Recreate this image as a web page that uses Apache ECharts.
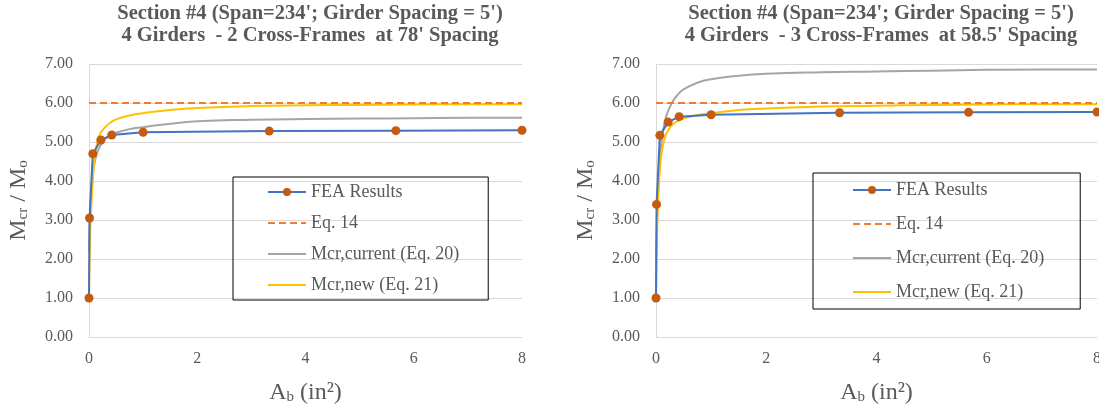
<!DOCTYPE html>
<html>
<head>
<meta charset="utf-8">
<script src="https://cdn.jsdelivr.net/npm/echarts@6/dist/echarts.min.js"></script>
<style>
html, body { margin: 0; padding: 0; background: #fff; }
#chart { width: 1099px; height: 406px; }
</style>
</head>
<body>
<div id="chart"></div>
<script>
// axis ticks
const xTicks = [0, 2, 4, 6, 8]
const yTicks = [0, 1, 2, 3, 4, 5, 6, 7]

// FEA results (markers)
const abFea = [0, 0.01, 0.07, 0.22, 0.42, 1.0, 3.33, 5.67, 8]
const feaLeft = [1.00, 3.05, 4.70, 5.05, 5.18, 5.25, 5.28, 5.29, 5.30]
const feaRight = [1.00, 3.40, 5.17, 5.51, 5.65, 5.70, 5.75, 5.76, 5.77]

// Eq. 14
const abEq14 = [0, 8]
const eq14 = [6.00, 6.00]

// equation curves
const abCurve = [0, 0.02, 0.04, 0.07, 0.1, 0.15, 0.2, 0.3, 0.4, 0.5, 0.75, 1, 1.5, 2, 3, 4, 5, 6, 7, 8]
const currentLeft = [2.2, 3.2, 3.7, 4.2, 4.45, 4.72, 4.88, 5.08, 5.18, 5.24, 5.33, 5.38, 5.47, 5.53, 5.57, 5.59, 5.60, 5.61, 5.62, 5.62]
const newLeft = [1.0, 2.6, 3.3, 4.0, 4.5, 4.98, 5.2, 5.38, 5.5, 5.58, 5.68, 5.74, 5.82, 5.87, 5.92, 5.94, 5.95, 5.96, 5.97, 5.97]
const currentRight = [2.0, 3.0, 3.8, 4.5, 5.0, 5.45, 5.72, 6.03, 6.22, 6.35, 6.52, 6.61, 6.70, 6.75, 6.79, 6.81, 6.83, 6.85, 6.86, 6.86]
const newRight = [1.0, 2.7, 3.5, 4.3, 4.7, 5.05, 5.25, 5.45, 5.54, 5.6, 5.69, 5.74, 5.82, 5.86, 5.91, 5.93, 5.95, 5.96, 5.97, 5.97]

const titles = [
  "Section #4 (Span=234'; Girder Spacing = 5')\n4 Girders  - 2 Cross-Frames  at 78' Spacing",
  "Section #4 (Span=234'; Girder Spacing = 5')\n4 Girders  - 3 Cross-Frames  at 58.5' Spacing"
]

const names = ['FEA Results', 'Eq. 14', 'Mcr,current (Eq. 20)', 'Mcr,new (Eq. 21)']

const FONT = "'Liberation Serif', 'Times New Roman', serif"
const TXT = '#595959'

const pts = (xs, ys) => xs.map((x, i) => [x, ys[i]])

const grids = [
  { left: 89, right: 577, top: 64, bottom: 69, outerBoundsMode: 'none', containLabel: false },
  { left: 656, right: 2, top: 64, bottom: 69, outerBoundsMode: 'none', containLabel: false }
]

const subRich = {
  m: { fontSize: 24, fontFamily: FONT, color: TXT, lineHeight: 24, verticalAlign: 'top' },
  s: { fontSize: 15, fontFamily: FONT, color: TXT, lineHeight: 15, verticalAlign: 'bottom', padding: [12, 0, 0, 0] }
}

const makeX = (gi) => ({
  type: 'value',
  gridIndex: gi,
  min: xTicks[0],
  max: xTicks[xTicks.length - 1],
  interval: xTicks[1] - xTicks[0],
  name: '{m|A}{s|b}{m| (in²)}',
  nameLocation: 'middle',
  nameGap: 44,
  nameTextStyle: { rich: subRich },
  axisLine: { show: true, lineStyle: { color: '#D9D9D9', width: 1 } },
  axisTick: { show: false },
  splitLine: { show: false },
  axisLabel: { fontFamily: FONT, fontSize: 16, color: TXT, margin: 14 }
})

const makeY = (gi) => ({
  type: 'value',
  gridIndex: gi,
  min: yTicks[0],
  max: yTicks[yTicks.length - 1],
  interval: yTicks[1] - yTicks[0],
  name: '{m|M}{s|cr}{m| / M}{s|o}',
  nameLocation: 'middle',
  nameRotate: 90,
  nameGap: 58,
  nameTextStyle: { rich: subRich },
  axisLine: { show: true, lineStyle: { color: '#D9D9D9', width: 1 } },
  axisTick: { show: false },
  splitLine: { show: true, lineStyle: { color: '#D9D9D9', width: 1 } },
  axisLabel: {
    fontFamily: FONT, fontSize: 16, color: TXT, margin: 16,
    formatter: (v) => v.toFixed(2)
  }
})

const makeSeries = (gi, fea, cur, nw) => [
  {
    name: names[2], type: 'line', xAxisIndex: gi, yAxisIndex: gi,
    data: pts(abCurve, cur), smooth: 0.5, symbol: 'none',
    lineStyle: { color: '#A5A5A5', width: 2 }, itemStyle: { color: '#A5A5A5' }, z: 2
  },
  {
    name: names[3], type: 'line', xAxisIndex: gi, yAxisIndex: gi,
    data: pts(abCurve, nw), smooth: 0.5, symbol: 'none',
    lineStyle: { color: '#FFC000', width: 2 }, itemStyle: { color: '#FFC000' }, z: 3
  },
  {
    name: names[1], type: 'line', xAxisIndex: gi, yAxisIndex: gi,
    data: pts(abEq14, eq14), symbol: 'none',
    lineStyle: { color: '#ED7D31', width: 2, type: [7, 4] }, itemStyle: { color: '#ED7D31' }, z: 4
  },
  {
    name: names[0], type: 'line', xAxisIndex: gi, yAxisIndex: gi,
    data: pts(abFea, fea), symbol: 'circle', symbolSize: 9, showSymbol: true,
    lineStyle: { color: '#4472C4', width: 2 }, itemStyle: { color: '#C55A11' }, z: 5
  }
]

// legend entries: only the FEA entry keeps its marker
const legendData = names.map((n, i) => i === 0 ? n : { name: n, itemStyle: { opacity: 0 } })

const makeLegend = (left, top, pad, gap) => ({
  orient: 'vertical',
  left: left,
  top: top,
  data: legendData,
  itemWidth: 38,
  itemHeight: 10,
  itemGap: gap,
  padding: pad,
  borderColor: '#000',
  borderWidth: 1,
  selectedMode: false,
  textStyle: { fontFamily: FONT, fontSize: 18, color: TXT, lineHeight: 18 }
})

const option = {
  backgroundColor: '#fff',
  animation: false,
  title: titles.map((t, i) => ({
    text: t,
    left: i === 0 ? 305 : 876,
    top: -2,
    textAlign: 'center',
    textStyle: { fontFamily: FONT, fontSize: 20.5, fontWeight: 'bold', color: TXT, lineHeight: 22 }
  })),
  legend: [
    makeLegend(233, 177, [6, 29, 6, 34], 13),
    makeLegend(813, 173, [8, 36, 8, 39], 16)
  ],
  grid: grids,
  xAxis: [makeX(0), makeX(1)],
  yAxis: [makeY(0), makeY(1)],
  series: [
    ...makeSeries(0, feaLeft, currentLeft, newLeft),
    ...makeSeries(1, feaRight, currentRight, newRight)
  ]
}

const myChart = echarts.init(document.getElementById('chart'))
myChart.setOption(option)
</script>
</body>
</html>
